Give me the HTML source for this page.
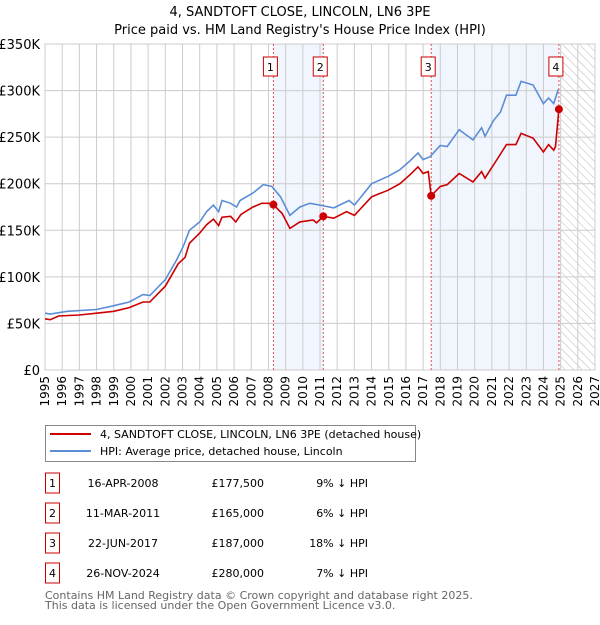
<!DOCTYPE html>
<html><head><meta charset="utf-8"><style>
body{margin:0;background:#fff;font-family:"Liberation Sans",sans-serif;}
svg text{font-family:"DejaVu Sans","Liberation Sans",sans-serif;}
</style></head><body>
<svg id="chart" width="600" height="620" viewBox="0 0 600 620">
<defs><pattern id="hatch" width="6" height="6" patternUnits="userSpaceOnUse" patternTransform="rotate(-45)"><line x1="0" y1="0" x2="0" y2="6" stroke="#bbb" stroke-width="1"/></pattern></defs>
<text x="300" y="16" text-anchor="middle" font-size="13">4, SANDTOFT CLOSE, LINCOLN, LN6 3PE</text>
<text x="300" y="34" text-anchor="middle" font-size="13">Price paid vs. HM Land Registry's House Price Index (HPI)</text>
<g id="plot"></g>
<g>
<rect x="45.5" y="425.5" width="370" height="36" fill="#fff" stroke="#888"/>
<line x1="50" y1="434" x2="91" y2="434" stroke="#cc0000" stroke-width="2"/>
<text x="100" y="438" font-size="11">4, SANDTOFT CLOSE, LINCOLN, LN6 3PE (detached house)</text>
<line x1="50" y1="451" x2="91" y2="451" stroke="#5b8ed6" stroke-width="2"/>
<text x="100" y="455" font-size="11">HPI: Average price, detached house, Lincoln</text>
</g>
<g id="table" font-size="11"></g>
<text x="45" y="599" font-size="11" fill="#666">Contains HM Land Registry data © Crown copyright and database right 2025.</text>
<text x="45" y="609" font-size="11" fill="#666">This data is licensed under the Open Government Licence v3.0.</text>
</svg>
<script>
const hpiYears=[1995,1995.3,1996.3,1998,1999,1999.9,2000.7,2001.1,2002,2002.65,2003.05,2003.4,2004,2004.4,2004.8,2005.1,2005.3,2005.8,2006.15,2006.35,2007.1,2007.7,2008.2,2008.7,2009.25,2009.83,2010.4,2011,2011.8,2012.7,2013,2014,2014.97,2015.65,2016.2,2016.7,2017,2017.4,2018,2018.4,2019.1,2019.9,2020.4,2020.6,2021.1,2021.5,2021.85,2022.4,2022.7,2023.4,2024,2024.3,2024.6,2024.86];
const hpiValues=[61,60,63,65,69,73,81,80,97,118,133,150,159,170,177,170,182,179,175,182,190,199,197,186,166,175,179,177,174,182,177,200,208,215,224,233,226,229,241,240,258,247,260,251,268,277,295,295,310,306,286,292,286,301];
const priceYears=[1995,1995.3,1995.8,1997,1998,1999,1999.9,2000.7,2001.1,2002,2002.75,2003.15,2003.4,2004,2004.4,2004.8,2005.1,2005.3,2005.8,2006.1,2006.4,2007.1,2007.6,2008.1,2008.29,2008.8,2009.25,2009.83,2010.6,2010.8,2011.19,2011.8,2012.55,2013,2014,2014.97,2015.65,2016.2,2016.7,2017,2017.3,2017.47,2018,2018.4,2019.1,2019.9,2020.4,2020.6,2021.3,2021.85,2022.4,2022.7,2023.4,2024,2024.3,2024.6,2024.7,2024.9];
const priceValues=[55,54,58,59,61,63,67,73,73,90,114,121,136,147,156,162,155,164,165,159,167,175,179,179,177.5,168,152,159,161,158,165,163,170,166,186,193,200,209,218,211,213,187,197,199,211,202,213,206,226,242,242,254,249,234,242,236,240,280];
const saleLabels=["1","2","3","4"];
const saleYears=[2008.29,2011.19,2017.47,2024.9];
const salePrices=[177.5,165,187,280];
const saleDates=["16-APR-2008","11-MAR-2011","22-JUN-2017","26-NOV-2024"];
const salePriceText=["£177,500","£165,000","£187,000","£280,000"];
const saleHpiText=["9% ↓ HPI","6% ↓ HPI","18% ↓ HPI","7% ↓ HPI"];
const yTicks=[0,50,100,150,200,250,300,350];
const yTickLabels=["£0","£50K","£100K","£150K","£200K","£250K","£300K","£350K"];
const xTicks=[1995,1996,1997,1998,1999,2000,2001,2002,2003,2004,2005,2006,2007,2008,2009,2010,2011,2012,2013,2014,2015,2016,2017,2018,2019,2020,2021,2022,2023,2024,2025,2026,2027];

const L=45,R=595,T=44,B=370,X0=1995,X1=2027,Ymax=350;
const sx=y=>L+(y-X0)/(X1-X0)*(R-L);
const sy=v=>B-v/Ymax*(B-T);
const NS="http://www.w3.org/2000/svg";
const plot=document.getElementById('plot');
function mk(tag,attrs,parent){const e=document.createElementNS(NS,tag);for(const k in attrs)e.setAttribute(k,attrs[k]);(parent||plot).appendChild(e);return e;}
// background shading
let r=mk('rect',{x:sx(saleYears[0]),y:T,width:sx(saleYears[1])-sx(saleYears[0]),height:B-T,fill:'#eef3fc',opacity:0.8});


r=mk('rect',{x:sx(saleYears[2]),y:T,width:sx(saleYears[3])-sx(saleYears[2]),height:B-T,fill:'#eef3fc',opacity:0.8});


r=mk('rect',{x:sx(2025),y:T,width:R-sx(2025),height:B-T,fill:'url(#hatch)'});


// grid
xTicks.forEach(t=>{const l=mk('line',{x1:sx(t),x2:sx(t),y1:T,y2:B,stroke:'#ccc','stroke-width':1});


const tx=mk('text',{x:0,y:0,'font-size':12,'text-anchor':'end',transform:`translate(${sx(t)+4},${B+6}) rotate(-90)`});tx.textContent=t;

});
yTicks.forEach((t,i)=>{const l=mk('line',{x1:L,x2:R,y1:sy(t),y2:sy(t),stroke:'#ccc','stroke-width':1});


const tx=mk('text',{x:40,y:sy(t)+5,'font-size':13,'text-anchor':'end'});tx.textContent=yTickLabels[i];

});
r=mk('rect',{x:L,y:T,width:R-L,height:B-T,fill:'none',stroke:'#ccc'});


// sale vlines
saleYears.forEach(y=>{const l=mk('line',{x1:sx(y),x2:sx(y),y1:T,y2:B,stroke:'#e05050','stroke-width':1,'stroke-dasharray':'2,2'});

});
// lines
function pts(xs,vs){return xs.map((x,i)=>sx(x).toFixed(1)+','+sy(vs[i]).toFixed(1)).join(' ');}
let pl=mk('polyline',{points:pts(hpiYears,hpiValues),fill:'none',stroke:'#5b8ed6','stroke-width':1.6});


pl=mk('polyline',{points:pts(priceYears,priceValues),fill:'none',stroke:'#cc0000','stroke-width':1.6});


saleYears.forEach((y,i)=>{const c=mk('circle',{cx:sx(y),cy:sy(salePrices[i]),r:4,fill:'#cc0000'});


const g=mk('g',{});


mk('rect',{x:sx(y)-10,y:57,width:14,height:19,fill:'#fff',stroke:'#cc0000'},g);
const t=mk('text',{x:sx(y)-3,y:71,'font-size':11,'text-anchor':'middle'},g);t.textContent=saleLabels[i];});
// table
const tbl=document.getElementById('table');
saleLabels.forEach((s,i)=>{const y=483+i*30;
const g=mk('g',{},tbl);


mk('rect',{x:45.5,y:y-10,width:14,height:20,fill:'#fff',stroke:'#cc0000'},g);
let t=mk('text',{x:52.5,y:y+4,'text-anchor':'middle'},g);t.textContent=s;
t=mk('text',{x:123,y:y+4,'text-anchor':'middle'},g);t.textContent=saleDates[i];
t=mk('text',{x:264,y:y+4,'text-anchor':'end'},g);t.textContent=salePriceText[i];
t=mk('text',{x:368,y:y+4,'text-anchor':'end'},g);t.textContent=saleHpiText[i];});
</script>
</body></html>
